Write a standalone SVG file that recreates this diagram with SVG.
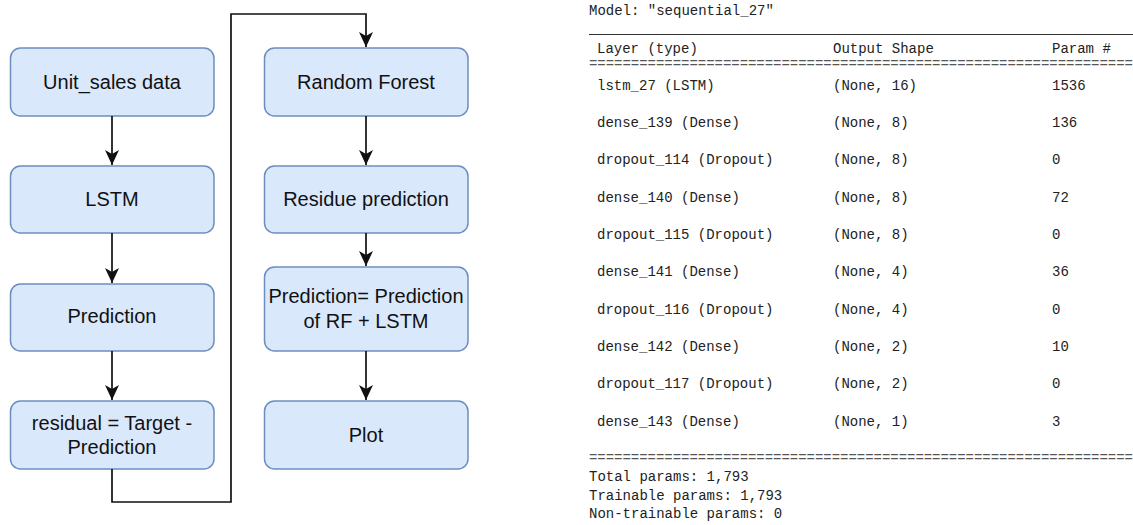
<svg xmlns="http://www.w3.org/2000/svg" width="1133" height="525" viewBox="0 0 1133 525">
<defs>
<style>
.box{fill:#dae8fc;stroke:#6c8ebf;stroke-width:1.5}
.lbl{font-family:"Liberation Sans",Arial,sans-serif;font-size:20px;fill:#111;text-anchor:middle}
.edge{fill:none;stroke:#111;stroke-width:1.7}
.mono{font-family:"Liberation Mono","DejaVu Sans Mono",monospace;font-size:14px;fill:#222}
</style>
<marker id="arr" markerWidth="16" markerHeight="16" viewBox="0 0 16 16" refX="15" refY="8" orient="auto" markerUnits="userSpaceOnUse">
<path d="M0,1 L15,8 L0,15 L4,8 z" fill="#111"/>
</marker>
</defs>
<rect width="1133" height="525" fill="#fff"/>
<g id="n1"><rect class="box" x="10.5" y="48" width="203.5" height="68" rx="10"/><text class="lbl" x="112" y="89">Unit_sales data</text></g>
<g id="n2"><rect class="box" x="10.5" y="166" width="203.5" height="67" rx="10"/><text class="lbl" x="112" y="206">LSTM</text></g>
<g id="n3"><rect class="box" x="10.5" y="284" width="203.5" height="67" rx="10"/><text class="lbl" x="112" y="323">Prediction</text></g>
<g id="n4"><rect class="box" x="10.5" y="401" width="203.5" height="68" rx="10"/><text class="lbl" x="112" y="430">residual = Target -</text><text class="lbl" x="112" y="454">Prediction</text></g>
<g id="n5"><rect class="box" x="264.5" y="48" width="203.5" height="68" rx="10"/><text class="lbl" x="366" y="89">Random Forest</text></g>
<g id="n6"><rect class="box" x="264.5" y="166" width="203.5" height="67" rx="10"/><text class="lbl" x="366" y="206">Residue prediction</text></g>
<g id="n7"><rect class="box" x="264.5" y="267" width="203.5" height="84" rx="10"/><text class="lbl" x="366" y="303">Prediction= Prediction</text><text class="lbl" x="366" y="328">of RF + LSTM</text></g>
<g id="n8"><rect class="box" x="264.5" y="401" width="203.5" height="68" rx="10"/><text class="lbl" x="366" y="442">Plot</text></g>
<g id="connectors">
<path class="edge" d="M112,116 V165" marker-end="url(#arr)"/>
<path class="edge" d="M112,233 V283" marker-end="url(#arr)"/>
<path class="edge" d="M112,351 V400" marker-end="url(#arr)"/>
<path class="edge" d="M112,469 V502 H231 V14 H366 V47" marker-end="url(#arr)"/>
<path class="edge" d="M366,116 V165" marker-end="url(#arr)"/>
<path class="edge" d="M366,233 V266" marker-end="url(#arr)"/>
<path class="edge" d="M366,351 V400" marker-end="url(#arr)"/>
</g>
<g id="summary" class="mono">
<text x="589" y="15">Model: "sequential_27"</text>
<line x1="589" y1="34.5" x2="1133" y2="34.5" stroke="#333" stroke-width="1"/>
<text x="597" y="53">Layer (type)</text><text x="833" y="53">Output Shape</text><text x="1052" y="53">Param #</text>
<text x="589" y="68" textLength="544" lengthAdjust="spacing" fill="#555">=================================================================</text>
<text x="597" y="90">lstm_27 (LSTM)</text><text x="833" y="90">(None, 16)</text><text x="1052" y="90">1536</text>
<text x="597" y="127">dense_139 (Dense)</text><text x="833" y="127">(None, 8)</text><text x="1052" y="127">136</text>
<text x="597" y="164">dropout_114 (Dropout)</text><text x="833" y="164">(None, 8)</text><text x="1052" y="164">0</text>
<text x="597" y="202">dense_140 (Dense)</text><text x="833" y="202">(None, 8)</text><text x="1052" y="202">72</text>
<text x="597" y="239">dropout_115 (Dropout)</text><text x="833" y="239">(None, 8)</text><text x="1052" y="239">0</text>
<text x="597" y="276">dense_141 (Dense)</text><text x="833" y="276">(None, 4)</text><text x="1052" y="276">36</text>
<text x="597" y="314">dropout_116 (Dropout)</text><text x="833" y="314">(None, 4)</text><text x="1052" y="314">0</text>
<text x="597" y="351">dense_142 (Dense)</text><text x="833" y="351">(None, 2)</text><text x="1052" y="351">10</text>
<text x="597" y="388">dropout_117 (Dropout)</text><text x="833" y="388">(None, 2)</text><text x="1052" y="388">0</text>
<text x="597" y="426">dense_143 (Dense)</text><text x="833" y="426">(None, 1)</text><text x="1052" y="426">3</text>
<text x="589" y="462" textLength="544" lengthAdjust="spacing" fill="#555">=================================================================</text>
<text x="589" y="481">Total params: 1,793</text>
<text x="589" y="500">Trainable params: 1,793</text>
<text x="589" y="518">Non-trainable params: 0</text>
</g>
</svg>
